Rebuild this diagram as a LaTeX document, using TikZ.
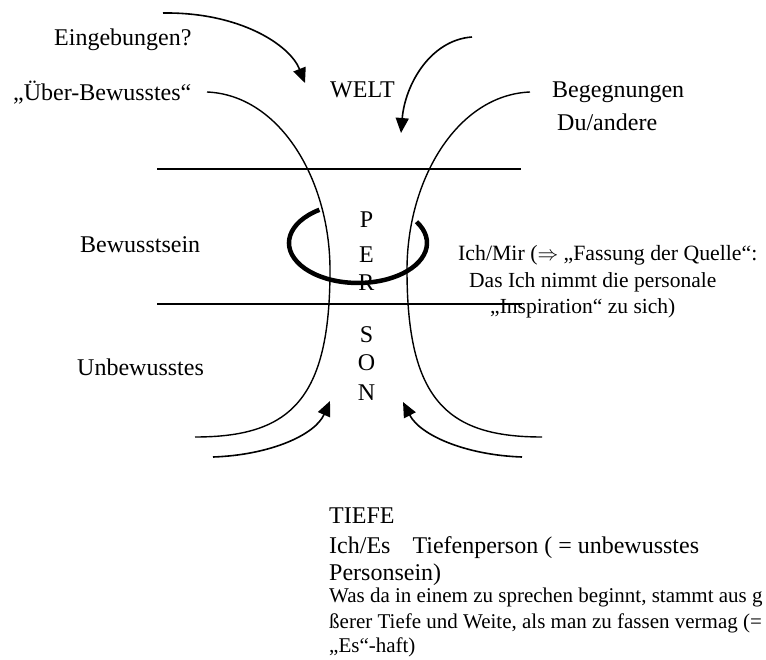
\documentclass[tikz,border=0pt]{standalone}
\usepackage{fontspec}
\setmainfont{Liberation Serif}
\usetikzlibrary{arrows.meta}
\begin{document}
\begin{tikzpicture}[x=1pt,y=-1pt,
  big/.style={anchor=base west,inner sep=0pt,font=\fontsize{24}{28}\selectfont},
  mid/.style={anchor=base west,inner sep=0pt,font=\fontsize{21.8}{26}\selectfont},
  small/.style={anchor=base west,inner sep=0pt,font=\fontsize{21.5}{25}\selectfont},
  tight/.style={anchor=base west,inner sep=0pt,font=\fontsize{21}{25}\selectfont},
  letter/.style={anchor=base,inner sep=0pt,font=\fontsize{24}{28}\selectfont},
  curve/.style={line width=1.4pt},
  flow/.style={line width=1.6pt,-{Triangle[length=15pt,width=13pt]}},
  level/.style={line width=1.3pt},
  ring/.style={line width=4.5pt}]
\useasboundingbox (0,0) rectangle (766,659);
\clip (0,0) rectangle (766,659);

% texts
\node[big] (eing) at (54,45) {Eingebungen?};
\node[big] (ueber) at (13,100) {„Über-Bewusstes“};
\node[big] (welt) at (330,97) {WELT};
\node[big] (beg) at (552,97) {Begegnungen};
\node[big] (du) at (557,130) {Du/andere};
\node[big] (bew) at (80,252) {Bewusstsein};
\node[big] (unb) at (77,375) {Unbewusstes};
\node[mid] (mir1) at (458,260) {Ich/Mir (\ensuremath{\Rightarrow} „Fassung der Quelle“:};
\node[small] (mir2) at (469,287) {Das Ich nimmt die personale};
\node[small] (mir3) at (490,313) {„Inspiration“ zu sich)};
\node[big] (tiefe) at (329,523) {TIEFE};
\node[big] (es1) at (329,553) {Ich/Es\hspace{22pt}Tiefenperson ( = unbewusstes};
\node[big] (es2) at (329,580) {Personsein)};
\node[tight] (was1) at (329,602) {Was da in einem zu sprechen beginnt, stammt aus g};
\node[tight] (was2) at (329,628) {ßerer Tiefe und Weite, als man zu fassen vermag (=};
\node[tight] (was3) at (329,652) {„Es“-haft)};

% PERSON letters
\node[letter] (lP) at (366.5,227) {P};
\node[letter] (lE) at (366.5,262) {E};
\node[letter] (lR) at (366.5,290) {R};
\node[letter] (lS) at (366.5,342) {S};
\node[letter] (lO) at (366.5,370) {O};
\node[letter] (lN) at (366.5,400) {N};

% level lines
\coordinate (h1a) at (157,169);
\coordinate (h1b) at (521,169);
\coordinate (h2a) at (157,304);
\coordinate (h2b) at (522,304);
\draw[level] (h1a) -- (h1b);
\draw[level] (h2a) -- (h2b);

% hourglass curves
\coordinate (L0) at (207,92);
\coordinate (L1) at (330,270);
\coordinate (L2) at (195,437);
\coordinate (R0) at (530,92);
\coordinate (R1) at (407,270);
\coordinate (R2) at (542,437);
\draw[curve] (L0) .. controls (280,95) and (330,180) .. (L1)
                  .. controls (330,400) and (290,437) .. (L2);
\draw[curve] (R0) .. controls (457,95) and (407,180) .. (R1)
                  .. controls (407,400) and (447,437) .. (R2);

% arrows
\coordinate (a1s) at (163,13);
\coordinate (a1e) at (305,83);
\coordinate (a2s) at (472,37);
\coordinate (a2e) at (401,133);
\coordinate (a3s) at (213,457);
\coordinate (a3e) at (330,401);
\coordinate (a4s) at (522,457);
\coordinate (a4e) at (403,402);
\draw[flow] (a1s) .. controls (240,12) and (290,45) .. (a1e);
\draw[flow] (a2s) .. controls (430,40) and (405,85) .. (a2e);
\draw[flow] (a3s) .. controls (270,455) and (315,435) .. (a3e);
\draw[flow] (a4s) .. controls (465,455) and (420,435) .. (a4e);

% ring
\coordinate (ringstart) at (319.4,209.8);
\draw[ring] (ringstart) arc[start angle=236,end angle=-32,x radius=69,y radius=40];
\end{tikzpicture}
\end{document}
